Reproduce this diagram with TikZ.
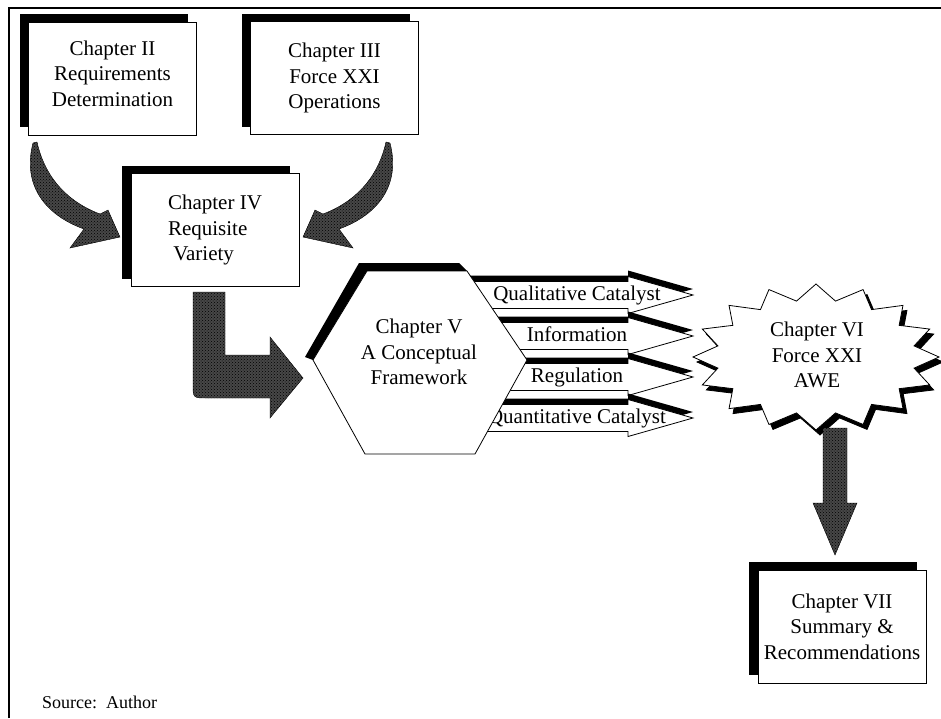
\documentclass[tikz,border=0pt]{standalone}
\usepackage{fontspec}
\setmainfont{Liberation Serif}
\usetikzlibrary{shadows,patterns}
\newcommand\chapfont{\fontsize{21}{25.5}\selectfont}
\tikzset{
  chapbox/.style={draw=black, line width=0.9pt, fill=white, minimum width=168pt, minimum height=113pt, align=center, font=\chapfont, drop shadow={shadow xshift=-9pt, shadow yshift=8pt, fill=black, opacity=1}},
  hatch/.style={draw=black, line width=0.4pt, fill=black!72, postaction={pattern=crosshatch dots, pattern color=black}},
  outline/.style={draw=black, line width=0.8pt, fill=white},
  label/.style={font=\chapfont, inner sep=0pt}
}
\begin{document}
\begin{tikzpicture}[x=1pt,y=-1pt]
\useasboundingbox (0,0) rectangle (941,718);
\draw[line width=1.2pt] (9,718) -- (9,8) -- (941,8);
\node[chapbox, text depth=10pt] (reqdet) at (112.5,78.5) {Chapter II\\Requirements\\Determination};
\node[chapbox] (forceops) at (334.5,78) {Chapter III\\Force XXI\\Operations};
\node[chapbox, align=left] (reqvar) at (215,230) {Chapter IV\\Requisite\\\ Variety};
\node[chapbox] (summary) at (842,626.5) {Chapter VII\\Summary \&\\Recommendations};
\draw[hatch] (33,143) .. controls (22,185) and (45,215) .. (84,229) -- (70,248) -- (120,237) -- (108,210) -- (100,214) .. controls (68,202) and (45,178) .. (37,142) -- cycle;
\begin{scope}[shift={(423,0)}, xscale=-1]
\draw[hatch] (33,143) .. controls (22,185) and (45,215) .. (84,229) -- (70,248) -- (120,237) -- (108,210) -- (100,214) .. controls (68,202) and (45,178) .. (37,142) -- cycle;
\end{scope}
\draw[hatch] (193,292) -- (225,292) -- (225,355) -- (270,355) -- (270,337) -- (303,378) -- (270,418) -- (270,398) -- (207,398) .. controls (193,398) .. (193,384) -- cycle;
\fill[black] (305,357) -- (359,263) -- (459,263) -- (467,271) -- (367,271) -- (313,360) -- cycle;
\foreach \y/\lab/\nm in {295/Qualitative Catalyst/qualcat, 336/Information/info, 377/Regulation/regul, 418/Quantitative Catalyst/quantcat} {
  \fill[black, shift={(0,-6)}] (470,\y-13.5) -- (628,\y-13.5) -- (628,\y-18.5) -- (693,\y) -- (628,\y+18.5) -- (628,\y+13.5) -- (470,\y+13.5) -- cycle;
  \draw[outline] (470,\y-13.5) -- (628,\y-13.5) -- (628,\y-18.5) -- (693,\y) -- (628,\y+18.5) -- (628,\y+13.5) -- (470,\y+13.5) -- cycle;
  \node[label, anchor=base] (\nm) at (577,\y+5) {\lab};
}
\draw[outline] (367,271) -- (467,271) -- (527,360) -- (475,454) -- (365,454) -- (313,360) -- cycle;
\node[label, align=center] (concept) at (419,352) {Chapter V\\A Conceptual\\Framework};
\foreach \dx/\dy/\col in {4/5/black, 0/0/white}
  \draw[outline, fill=\col, shift={(\dx,\dy)}] (816,284) \foreach \i in {1,...,31} { -- ({816+(mod(\i,2)==0 ? 123 : 100)*cos(-90+\i*11.25)}, {357+(mod(\i,2)==0 ? 73 : 57)*sin(-90+\i*11.25)}) } -- cycle;
\node[label, align=center] (awe) at (817,355) {Chapter VI\\Force XXI\\AWE};
\draw[hatch] (823,428) -- (847,428) -- (847,503) -- (857,503) -- (835,555) -- (813,503) -- (823,503) -- cycle;
\node[font=\fontsize{18}{20}\selectfont, anchor=base west, inner sep=0pt] (source) at (42,708) {Source:\ \ Author};
\end{tikzpicture}
\end{document}
